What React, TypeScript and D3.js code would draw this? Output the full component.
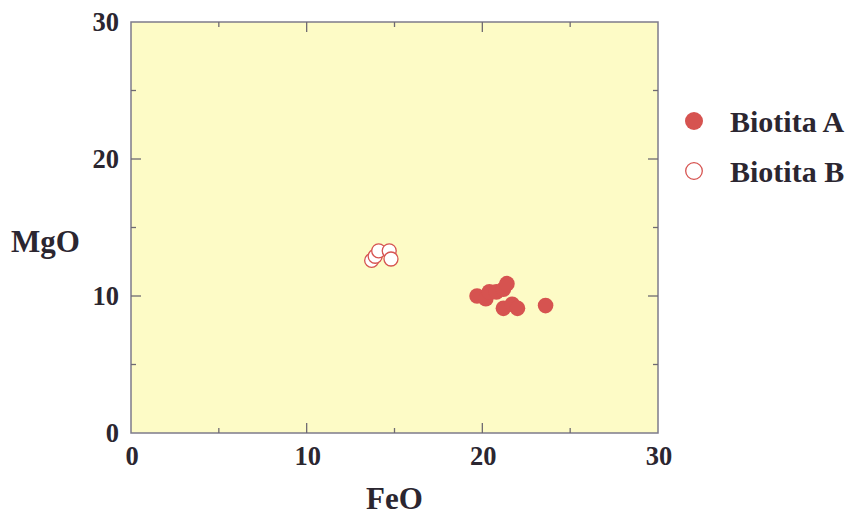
import { useEffect, useRef } from "react";
import * as d3 from "d3";

// Biotita A (filled)
const biotitaAFeO = [19.7, 20.2, 20.4, 20.8, 21.2, 21.4, 21.2, 21.7, 22.0, 23.6];
const biotitaAMgO = [10.0, 9.8, 10.3, 10.3, 10.5, 10.9, 9.1, 9.4, 9.1, 9.3];

// Biotita B (open)
const biotitaBFeO = [13.7, 13.9, 14.1, 14.7, 14.8];
const biotitaBMgO = [12.6, 12.9, 13.3, 13.3, 12.7];

const majorTicks = [0, 10, 20, 30];
const minorTicks = [5, 15, 25];

const legendItems = ["Biotita A", "Biotita B"];

const App = () => {
	const svgRef = useRef<SVGSVGElement>(null);

	useEffect(() => {
		const width = 852;
		const height = 516;
		const left = 131;
		const right = 658;
		const top = 22;
		const bottom = 433;
		const red = "#d65350";
		const ink = "#2b2630";
		const font = "'Liberation Serif', 'Times New Roman', serif";

		const svg = d3.select(svgRef.current).attr("width", width).attr("height", height);
		svg.selectAll("*").remove();

		const x = d3.scaleLinear().domain([0, 30]).range([left, right]);
		const y = d3.scaleLinear().domain([0, 30]).range([bottom, top]);

		// plot background and frame
		svg
			.append("rect")
			.attr("x", left)
			.attr("y", top)
			.attr("width", right - left)
			.attr("height", bottom - top)
			.attr("fill", "#fdfbc6")
			.attr("stroke", "#7d7b8a")
			.attr("stroke-width", 1.5);

		// inward ticks on all four sides
		const ticks = svg.append("g").attr("stroke", "#6f6a72").attr("stroke-width", 1.3);
		const tickSets = [
			{ vals: majorTicks.slice(1, -1), len: 10 },
			{ vals: minorTicks, len: 5 },
		];
		tickSets.forEach(({ vals, len }) => {
			vals.forEach((v) => {
				ticks.append("line").attr("x1", x(v)).attr("x2", x(v)).attr("y1", bottom).attr("y2", bottom - len);
				ticks.append("line").attr("x1", x(v)).attr("x2", x(v)).attr("y1", top).attr("y2", top + len);
				ticks.append("line").attr("x1", left).attr("x2", left + len).attr("y1", y(v)).attr("y2", y(v));
				ticks.append("line").attr("x1", right).attr("x2", right - len).attr("y1", y(v)).attr("y2", y(v));
			});
		});

		// tick labels
		const labels = svg
			.append("g")
			.attr("font-family", font)
			.attr("font-weight", "bold")
			.attr("font-size", 26.5)
			.attr("fill", ink);
		majorTicks.forEach((v) => {
			labels
				.append("text")
				.attr("x", x(v) + 1)
				.attr("y", bottom + 32)
				.attr("text-anchor", "middle")
				.text(v);
			labels
				.append("text")
				.attr("x", left - 12)
				.attr("y", y(v) + 9)
				.attr("text-anchor", "end")
				.text(v);
		});

		// axis titles
		const titles = svg
			.append("g")
			.attr("font-family", font)
			.attr("font-weight", "bold")
			.attr("font-size", 31)
			.attr("fill", ink);
		titles
			.append("text")
			.attr("x", (left + right) / 2)
			.attr("y", 509)
			.attr("text-anchor", "middle")
			.text("FeO");
		titles.append("text").attr("x", 11).attr("y", 252).text("MgO");

		// Biotita A points
		svg
			.append("g")
			.selectAll("circle")
			.data(biotitaAFeO)
			.join("circle")
			.attr("cx", (d) => x(d))
			.attr("cy", (_, i) => y(biotitaAMgO[i]))
			.attr("r", 7.8)
			.attr("fill", red);

		// Biotita B points
		svg
			.append("g")
			.selectAll("circle")
			.data(biotitaBFeO)
			.join("circle")
			.attr("cx", (d) => x(d))
			.attr("cy", (_, i) => y(biotitaBMgO[i]))
			.attr("r", 7)
			.attr("fill", "#ffffff")
			.attr("stroke", red)
			.attr("stroke-width", 1.3);

		// legend
		const legend = svg.append("g").attr("transform", "translate(694,121)");
		legendItems.forEach((name, i) => {
			const g = legend.append("g").attr("transform", `translate(0,${i * 50})`);
			g.append("circle")
				.attr("r", i === 0 ? 9 : 8.3)
				.attr("fill", i === 0 ? red : "#ffffff")
				.attr("stroke", i === 0 ? "none" : red)
				.attr("stroke-width", 1.3);
			g.append("text")
				.attr("x", 36)
				.attr("y", 11)
				.attr("font-family", font)
				.attr("font-weight", "bold")
				.attr("font-size", 30)
				.attr("fill", ink)
				.text(name);
		});
	}, []);

	return (
		<svg
			ref={svgRef}
			style={{ position: "absolute", left: 0, top: 0, background: "#ffffff" }}
		></svg>
	);
};

export default App;
